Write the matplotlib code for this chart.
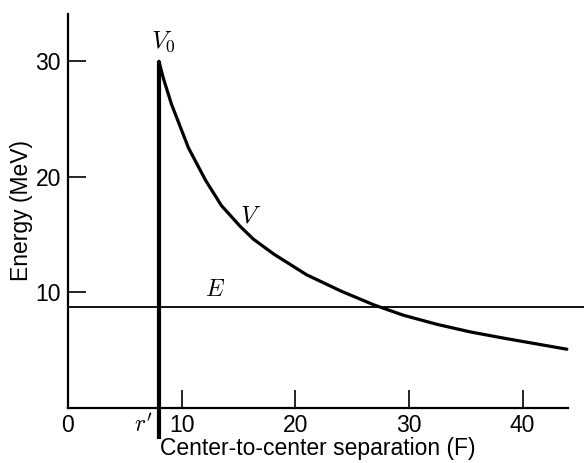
import matplotlib
matplotlib.use("Agg")
import matplotlib.pyplot as plt

# ---- data ----
r_values = [8.0, 8.4, 9.1, 10.6, 12.1, 13.5, 15.15, 16.3, 18.1, 21.0, 24.0,
            26.9, 29.5, 32.5, 35.4, 38.4, 41.3, 43.9]
V_values = [30.0, 28.5, 26.3, 22.5, 19.7, 17.5, 15.7, 14.6, 13.3, 11.5, 10.1,
            8.9, 8.0, 7.2, 6.55, 6.0, 5.5, 5.05]
r_prime = 8.0
V0 = 30.0
wall_bottom = -2.7
E_level = 8.73
E_extent = [0.0, 45.5]
x_ticks = [0, 10, 20, 30, 40]
x_tick_labels = ["0", "10", "20", "30", "40"]
y_ticks = [10, 20, 30]
y_tick_labels = ["10", "20", "30"]

plt.rcParams['font.family'] = ['Liberation Sans', 'DejaVu Sans']
plt.rcParams['mathtext.fontset'] = 'cm'

fig = plt.figure(figsize=(5.84, 4.63), dpi=100)
ax = fig.add_axes([68/584, 1 - 407.5/463, 500/584, 393.5/463])

ax.set_xlim(0, 44)
ax.set_ylim(0, 34.1)

# Coulomb curve
ax.plot(r_values, V_values, color='black', lw=2.3, solid_capstyle='round',
        solid_joinstyle='round', clip_on=False)
# nuclear wall
ax.plot([r_prime, r_prime], [wall_bottom, V0], color='black', lw=3.0, clip_on=False,
        solid_capstyle='butt')
# energy level
ax.plot(E_extent, [E_level, E_level], color='black', lw=1.3, clip_on=False)

for s in ['top', 'right']:
    ax.spines[s].set_visible(False)
for s in ['left', 'bottom']:
    ax.spines[s].set_linewidth(1.6)

ax.set_xticks(x_ticks)
ax.set_xticklabels(x_tick_labels)
ax.set_yticks(y_ticks)
ax.set_yticklabels(y_tick_labels)
ax.tick_params(axis='both', direction='in', length=13, width=1.2, labelsize=16.5, pad=5)
ax.tick_params(axis='y', pad=5)
ax.xaxis.get_major_ticks()[0].tick1line.set_visible(False)

ax.set_xlabel('Center-to-center separation (F)', fontsize=16.5, labelpad=0)
ax.set_ylabel('Energy (MeV)', fontsize=16.5, labelpad=2)

ax.text(8.4, 30.6, r'$V_0$', fontsize=18, ha='center', va='bottom')
ax.text(16.1, 16.6, r'$V$', fontsize=18, ha='center', va='center')
ax.text(12.9, 10.2, r'$E$', fontsize=17, ha='center', va='center')
ax.text(7.4, -1.55, r"$r'$", fontsize=17, ha='right', va='center', clip_on=False)

fig.savefig('out.png', dpi=100)
